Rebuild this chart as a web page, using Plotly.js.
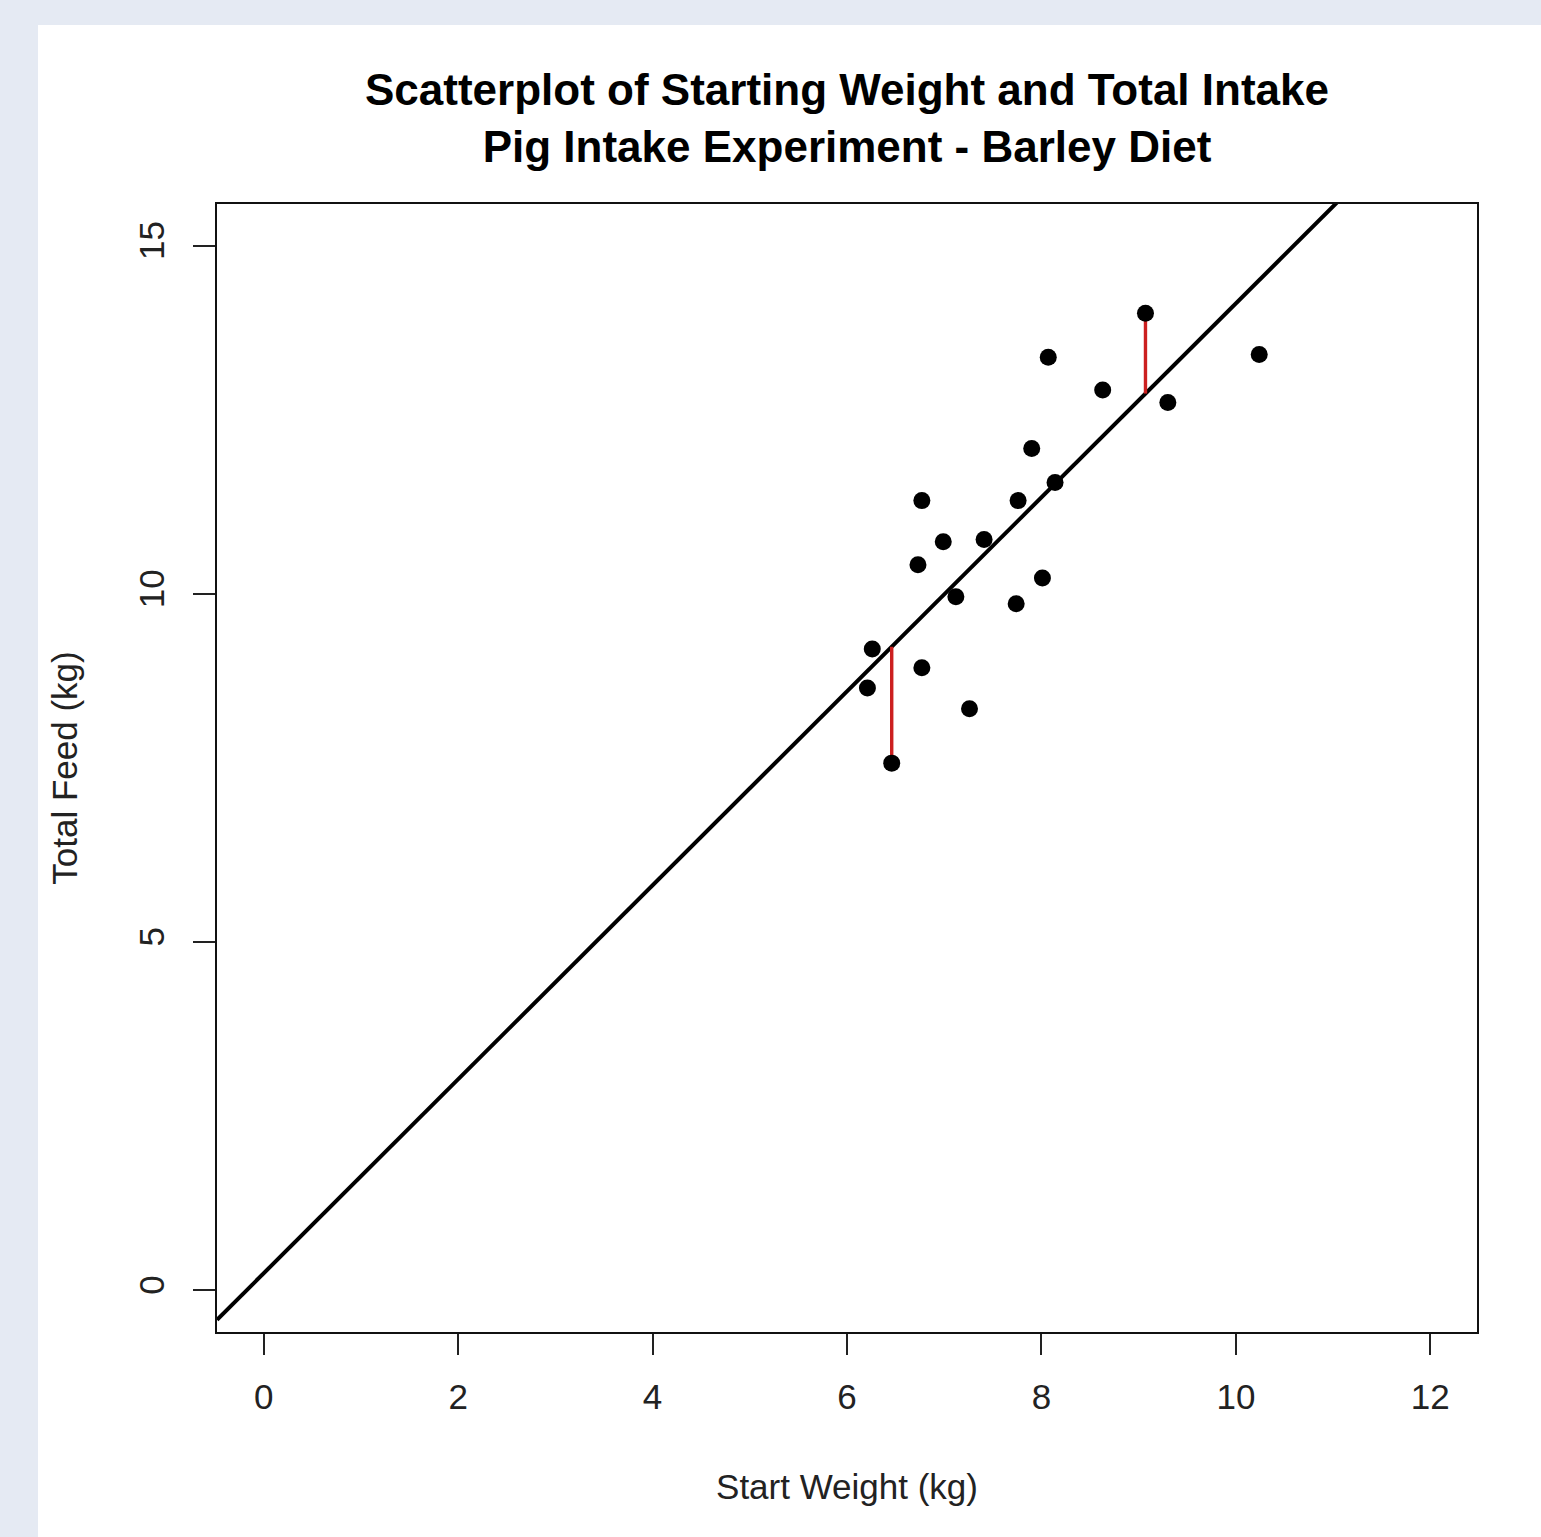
<!DOCTYPE html>
<html>
<head>
<meta charset="utf-8">
<script src="https://cdn.plot.ly/plotly-3.0.1.min.js"></script>
<style>
  html, body { margin: 0; padding: 0; background: #e5eaf3; }
  #chart { position: absolute; left: 38px; top: 25px; width: 1503px; height: 1512px; }
</style>
</head>
<body>
<div id="chart"></div>
<script>
// Data
const startWeight = [9.07, 8.07, 10.24, 8.63, 9.30, 7.90, 8.14, 6.77, 7.76, 6.99,
                     7.41, 6.73, 7.12, 8.01, 7.74, 6.26, 6.77, 6.21, 7.26, 6.46];
const totalFeed   = [14.03, 13.40, 13.44, 12.93, 12.75, 12.09, 11.60, 11.34, 11.34, 10.75,
                     10.78, 10.42, 9.96, 10.23, 9.86, 9.21, 8.94, 8.65, 8.35, 7.57];
// Fitted line
const fitIntercept = 0.243;
const fitSlope = 1.393;
// Highlighted residuals (indices into the arrays above)
const residualIdx = [0, 19];

const xRange = [-0.48, 12.48];
const yRange = [-0.6, 15.6];
const xTicks = [0, 2, 4, 6, 8, 10, 12];
const yTicks = [0, 5, 10, 15];

const fitX = [xRange[0], xRange[1]];
const fitY = fitX.map(x => fitIntercept + fitSlope * x);

const traces = [];
traces.push({
  x: fitX, y: fitY, mode: 'lines', type: 'scatter',
  line: {color: '#000000', width: 4}, hoverinfo: 'skip'
});
residualIdx.forEach(i => {
  const xi = startWeight[i];
  traces.push({
    x: [xi, xi], y: [totalFeed[i], fitIntercept + fitSlope * xi],
    mode: 'lines', type: 'scatter',
    line: {color: '#cc2020', width: 3.4}, hoverinfo: 'skip'
  });
});
traces.push({
  x: startWeight, y: totalFeed, mode: 'markers', type: 'scatter',
  marker: {color: '#000000', size: 17, line: {width: 0}}
});

const font = {family: 'Liberation Sans, Arial, sans-serif', color: '#111111'};

const layout = {
  width: 1503, height: 1512,
  paper_bgcolor: '#ffffff', plot_bgcolor: '#ffffff',
  showlegend: false,
  margin: {l: 179, r: 64, t: 179, b: 205},
  font: font,
  title: {
    text: '<b>Scatterplot of Starting Weight and Total Intake</b><br><b>Pig Intake Experiment - Barley Diet</b>',
    font: {family: 'Liberation Sans, Arial, sans-serif', size: 44, color: '#000000'},
    x: 0.5, xref: 'paper', xanchor: 'center',
    y: 0.947, yref: 'container', yanchor: 'middle'
  },
  xaxis: {
    range: xRange, tickmode: 'array', tickvals: xTicks, ticktext: xTicks.map(String),
    showgrid: false, zeroline: false,
    showline: true, mirror: true, linecolor: '#111111', linewidth: 2,
    ticks: 'outside', ticklen: 21, tickwidth: 2, tickcolor: '#222222',
    tickfont: {size: 35, color: '#222222'},
    ticklabelstandoff: 12,
    automargin: false,
    title: {text: 'Start Weight (kg)', font: {size: 35, color: '#222222'}, standoff: 59}
  },
  yaxis: {
    range: yRange, tickmode: 'array', tickvals: yTicks, ticktext: yTicks.map(String),
    showgrid: false, zeroline: false,
    showline: true, mirror: true, linecolor: '#111111', linewidth: 2,
    ticks: 'outside', ticklen: 22, tickwidth: 2, tickcolor: '#222222',
    tickfont: {size: 35, color: '#222222'}, tickangle: -90,
    ticklabelstandoff: 15,
    automargin: false,
    title: {text: 'Total Feed (kg)', font: {size: 35, color: '#222222'}, standoff: 44}
  }
};

Plotly.newPlot('chart', traces, layout, {displayModeBar: false, staticPlot: true});
</script>
</body>
</html>
